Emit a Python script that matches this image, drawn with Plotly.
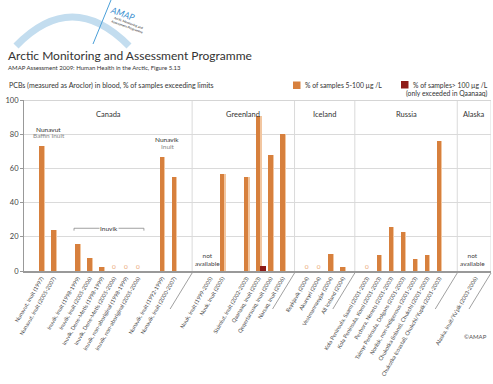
import plotly.graph_objects as go

# ---------------- data ----------------
regions = ["Canada", "Greenland", "Iceland", "Russia", "Alaska"]

canada_labels = ["Nunavut, Inuit (1997)", "Nunavut, Inuit (2005-2007)",
                 "Inuvik, Inuit (1998-1999)", "Inuvik, Inuit (2005-2006)",
                 "Inuvik, Dene-Metis (1998-1999)", "Inuvik, Dene-Metis (2005-2006)",
                 "Inuvik, non-aboriginal (1998-1999)", "Inuvik, non-aboriginal (2005-2006)",
                 "Nunavik, Inuit (1992-1999)", "Nunavik, Inuit (2000-2007)"]
canada_5_100 = [73, 24, 16, 7.4, 2.3, 0, 0, 0, 66.7, 54.8]
canada_over_100 = [0, 0, 0, 0, 0, 0, 0, 0, 0, 0]

greenland_labels = ["Nuuk, Inuit (1999-2005)", "Nuuk, Inuit (2005)",
                    "Sisimiut, Inuit (2002-2003)", "Qaanaaq, Inuit (2003)",
                    "Qeqertarsuaq, Inuit (2006)", "Narsaq, Inuit (2006)"]
greenland_5_100 = [None, 57, 55, 90.8, 68, 80]
greenland_over_100 = [None, 0, 0, 2.7, 0, 0]

iceland_labels = ["Reykjavík (2004)", "Akureyri (2004)", "Vestmannaeyjar (2004)",
                  "All Iceland (2004)"]
iceland_5_100 = [0, 0, 9.8, 2.5]
iceland_over_100 = [0, 0, 0, 0]

russia_labels = ["Kola Peninsula, Saami (2001-2003)", "Kola Peninsula, Komi (2001-2003)",
                 "Pechora, Nenets (2001-2003)", "Taimyr Peninsula, Dolgans (2001-2003)",
                 "Norilsk, non-indigenous (2001-2003)", "Chukotka (inland), Chukchi (2001-2003)",
                 "Chukotka (coastal), Chukchi/Yupik (2001-2003)"]
russia_5_100 = [0, 9.2, 25.9, 23, 6.8, 9.2, 76]
russia_over_100 = [0, 0, 0, 0, 0, 0, 0]

alaska_labels = ["Alaska, Inuit/Yu'pik (2003-2006)"]
alaska_5_100 = [None]
alaska_over_100 = [None]

y_ticks = [0, 20, 40, 60, 80, 100]

# ---------------- layout of category slots ----------------
groups = [
    (canada_labels, canada_5_100, canada_over_100, [2, 6, 2], 1),
    (greenland_labels, greenland_5_100, greenland_over_100, [2, 4], 2),
    (iceland_labels, iceland_5_100, iceland_over_100, [4], 1),
    (russia_labels, russia_5_100, russia_over_100, [7], 1),
    (alaska_labels, alaska_5_100, alaska_over_100, [1], 2),
]

xs, labs, v1, v2 = [], [], [], []
region_span = []
pos = 0
for labels, a, b, sub, gap_before in groups:
    pos += gap_before
    first = pos
    i = 0
    for si, n in enumerate(sub):
        if si > 0:
            pos += 1
        for _ in range(n):
            xs.append(pos); labs.append(labels[i]); v1.append(a[i]); v2.append(b[i])
            i += 1
            pos += 1
    region_span.append((first, pos - 1))

X0, X1 = -0.45, 38.3
W, H = 493, 384
ML, MR, MT, MB = 24, 2, 100, 113
PW, PH = W - ML - MR, H - MT - MB

def pxx(x):
    return (x - ML) / PW

def pxy(y):
    return (H - MB - y) / PH

def dx2p(x):
    return (x - X0) / (X1 - X0)

ORANGE = "#D7803D"
LIGHT = "#F2C6A0"
RED = "#8E1B17"
GRID = "#DADADA"
FONT = "Lato"

fig = go.Figure()

# light right edge of bars
fig.add_trace(go.Bar(x=xs, y=v1, width=0.47, offset=-0.2, marker=dict(color=LIGHT, line=dict(width=0)),
                     hoverinfo="skip", showlegend=False))
fig.add_trace(go.Bar(x=xs, y=v1, width=0.37, offset=-0.2, marker=dict(color=ORANGE, line=dict(width=0)),
                     name="% of samples 5-100 µg /L", showlegend=False))
rx = [x for x, v in zip(xs, v2) if v]
ry = [v for v in v2 if v]
fig.add_trace(go.Bar(x=rx, y=ry, width=0.5, offset=0.1, marker=dict(color=RED, line=dict(width=0)),
                     name="% of samples> 100 µg /L", showlegend=False))

zx = [x for x, v in zip(xs, v1) if v == 0]
fig.add_trace(go.Scatter(x=zx, y=[2.2] * len(zx), mode="text", text=["0"] * len(zx),
                         textfont=dict(family=FONT, size=6.5, color="#EBA877"),
                         hoverinfo="skip", showlegend=False))

shapes = []
annotations = []

# dividers
dividers = []
for (a0, a1), (b0, b1) in zip(region_span[:-1], region_span[1:]):
    dividers.append((a1 + b0) / 2)
edges = [X0] + dividers + [X1]
for d in dividers + [X1]:
    shapes.append(dict(type="line", xref="x", yref="y", x0=d, x1=d, y0=0, y1=100,
                       line=dict(color=GRID, width=1)))
    xp = dx2p(d)
    shapes.append(dict(type="line", xref="paper", yref="paper", x0=xp, y0=pxy(273),
                       x1=xp - 22 / PW, y1=pxy(309), line=dict(color="#777", width=0.7)))
# top border
shapes.append(dict(type="line", xref="paper", yref="y", x0=0, x1=1, y0=100, y1=100,
                   line=dict(color="#D5D5D5", width=2)))

for r, e0, e1 in zip(regions, edges[:-1], edges[1:]):
    annotations.append(dict(x=(e0 + e1) / 2, y=pxy(108), xref="x", yref="paper", text=r,
                            showarrow=False, font=dict(family=FONT, size=7.5, color="#333")))

# Inuvik bracket
inuvik_x = [x for x, l in zip(xs, labs) if l.startswith("Inuvik")]
bx0, bx1 = inuvik_x[0] - 0.3, inuvik_x[-1] + 0.5
shapes.append(dict(type="path", xref="x", yref="y",
                   path=f"M {bx0},23.6 L {bx0},25 L {bx1},25 L {bx1},23.6",
                   line=dict(color="#888", width=0.8)))
annotations.append(dict(x=(bx0 + bx1) / 2, y=25, xref="x", yref="y", text="Inuvik", showarrow=False,
                        bgcolor="white", borderpad=0, font=dict(family=FONT, size=6.5, color="#333")))

# Nunavut / Nunavik labels
nx = xs[0]
annotations.append(dict(x=nx + 0.6, y=83, xref="x", yref="y", text="Nunavut", showarrow=False,
                        font=dict(family=FONT, size=6.5, color="#333")))
annotations.append(dict(x=nx + 0.6, y=79, xref="x", yref="y", text="Baffin Inuit", showarrow=False,
                        font=dict(family=FONT, size=6.5, color="#888")))
kx = [x for x, l in zip(xs, labs) if l.startswith("Nunavik")][0]
annotations.append(dict(x=kx + 0.4, y=77, xref="x", yref="y", text="Nunavik", showarrow=False,
                        font=dict(family=FONT, size=6.5, color="#333")))
annotations.append(dict(x=kx + 0.5, y=73, xref="x", yref="y", text="Inuit", showarrow=False,
                        font=dict(family=FONT, size=6.5, color="#888")))

# not available
for x, v in zip(xs, v1):
    if v is None:
        annotations.append(dict(x=x, xshift=-3, y=1, xref="x", yref="y", yanchor="bottom",
                                text="not<br>available", showarrow=False,
                                font=dict(family=FONT, size=6.5, color="#444")))

# header
annotations += [
    dict(x=pxx(6), y=pxy(55), xref="paper", yref="paper", xanchor="left", yanchor="middle",
         text="Arctic Monitoring and Assessment Programme", showarrow=False,
         font=dict(family=FONT, size=12, color="#333")),
    dict(x=pxx(6), y=pxy(67), xref="paper", yref="paper", xanchor="left", yanchor="middle",
         text="AMAP Assessment 2009: Human Health in the Arctic, Figure 5.13", showarrow=False,
         font=dict(family=FONT, size=6, color="#333")),
    dict(x=pxx(7), y=pxy(86), xref="paper", yref="paper", xanchor="left", yanchor="middle",
         text="PCBs (measured as Aroclor) in blood, % of samples exceeding limits", showarrow=False,
         font=dict(family=FONT, size=7, color="#333")),
    dict(x=pxx(303), y=pxy(85), xref="paper", yref="paper", xanchor="left", yanchor="middle",
         text="% of samples 5-100 µg /L", showarrow=False,
         font=dict(family=FONT, size=6.8, color="#333")),
    dict(x=pxx(490), y=pxy(84.5), xref="paper", yref="paper", xanchor="right", yanchor="middle",
         text="% of samples> 100 µg /L", showarrow=False,
         font=dict(family=FONT, size=6.8, color="#333")),
    dict(x=pxx(490), y=pxy(94), xref="paper", yref="paper", xanchor="right", yanchor="middle",
         text="(only exceeded in Qaanaaq)", showarrow=False,
         font=dict(family=FONT, size=6.8, color="#333")),
    dict(x=pxx(489), y=pxy(336), xref="paper", yref="paper", xanchor="right", yanchor="middle",
         text="©AMAP", showarrow=False, font=dict(family=FONT, size=6, color="#555")),
    dict(x=pxx(123), y=pxy(13), xref="paper", yref="paper", xanchor="center", yanchor="middle",
         text="<i>AMAP</i>", textangle=20, showarrow=False,
         font=dict(family=FONT, size=9, color="#3A8FCF")),
    dict(x=pxx(128), y=pxy(25), xref="paper", yref="paper", xanchor="center", yanchor="middle",
         text="Arctic Monitoring and<br>Assessment Programme", textangle=20, showarrow=False,
         font=dict(family=FONT, size=3.2, color="#222")),
]

# legend squares
shapes.append(dict(type="rect", xref="paper", yref="paper", x0=pxx(293), x1=pxx(300.5),
                   y0=pxy(89), y1=pxy(81.5), fillcolor=ORANGE, line=dict(width=0)))
shapes.append(dict(type="rect", xref="paper", yref="paper", x0=pxx(401), x1=pxx(408.5),
                   y0=pxy(88.5), y1=pxy(81), fillcolor=RED, line=dict(width=0)))

# logo arc and line
shapes.append(dict(type="path", xref="paper", yref="paper",
                   path=f"M {pxx(16)},{pxy(46)} Q {pxx(72)},{pxy(-12)} {pxx(129)},{pxy(46)}",
                   line=dict(color="#C3DDEF", width=7)))
shapes.append(dict(type="line", xref="paper", yref="paper", x0=pxx(111), y0=pxy(0),
                   x1=pxx(93), y1=pxy(44), line=dict(color="#4A9FD8", width=1)))

tick_x = xs
fig.update_layout(
    width=W, height=H, margin=dict(l=ML, r=MR, t=MT, b=MB),
    paper_bgcolor="white", plot_bgcolor="white", barmode="overlay",
    bargap=0, showlegend=False,
    xaxis=dict(range=[X0, X1], tickmode="array", tickvals=tick_x, ticktext=labs,
               tickangle=-60, tickfont=dict(family=FONT, size=5.5, color="#444"),
               showgrid=False, zeroline=False, showline=True, linecolor="#999", linewidth=2,
               ticks="", fixedrange=True),
    yaxis=dict(range=[0, 100], tickmode="array", tickvals=y_ticks,
               tickfont=dict(family=FONT, size=7.5, color="#444"),
               showgrid=True, gridcolor=GRID, gridwidth=1, zeroline=False,
               showline=True, linecolor="#999", linewidth=1, ticks="outside", ticklen=3,
               tickcolor="#999"),
    shapes=shapes, annotations=annotations,
    font=dict(family=FONT),
)

fig.write_html("out.html", config={"displayModeBar": False},
               post_script="document.body.style.margin='0';document.body.style.overflow='hidden';")
